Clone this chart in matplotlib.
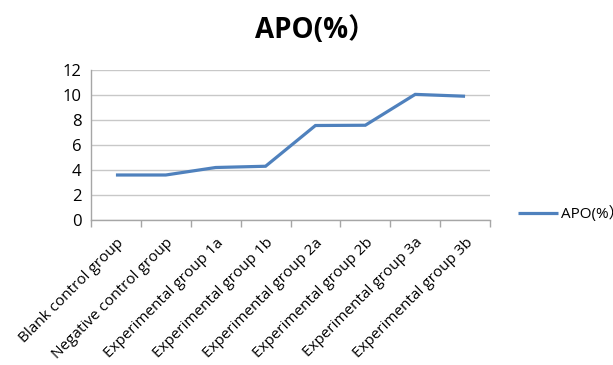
import matplotlib
matplotlib.use("Agg")
import matplotlib.pyplot as plt
import numpy as np

plt.rcParams['font.family'] = ['Open Sans', 'Noto Sans CJK TC', 'DejaVu Sans']

categories = ["Blank control group", "Negative control group",
              "Experimental group 1a", "Experimental group 1b",
              "Experimental group 2a", "Experimental group 2b",
              "Experimental group 3a", "Experimental group 3b"]
apo_values = [3.6, 3.6, 4.2, 4.3, 7.56, 7.58, 10.05, 9.9]
y_ticks = [0, 2, 4, 6, 8, 10, 12]
series_name = "APO(%）"

fig = plt.figure(figsize=(6.13, 3.65), dpi=100)
ax = fig.add_axes([91/613, 1-220/365, 399/613, 150/365])

x = np.arange(len(categories))
line, = ax.plot(x, apo_values, color="#4f81bd", lw=2.3, solid_capstyle="butt",
                solid_joinstyle="miter", label=series_name)

ax.set_xlim(-0.5, len(categories) - 0.5)
ax.set_ylim(0, 12)
ax.set_yticks(y_ticks)
ax.set_yticklabels([str(v) for v in y_ticks], fontsize=12)
ax.yaxis.grid(True, color="#c8c8c8", lw=1)
ax.set_axisbelow(True)

ax.set_xticks(np.arange(len(categories) + 1) - 0.5)
ax.set_xticklabels([])
ax.set_xticks(x, minor=True)
ax.set_xticklabels(categories, minor=True, rotation=45, ha="right",
                   rotation_mode="anchor", fontsize=11)
ax.tick_params(axis="x", which="major", length=5, color="#a6a6a6", width=1)
ax.tick_params(axis="x", which="minor", length=0, pad=11)
ax.tick_params(axis="y", length=0, pad=7)

for side in ["top", "right"]:
    ax.spines[side].set_visible(False)
for side in ["left", "bottom"]:
    ax.spines[side].set_color("#a6a6a6")
    ax.spines[side].set_linewidth(1)

fig.text(315/613, 1-30/365, series_name, ha="center", va="center",
         fontsize=20, fontweight="bold")

fig.legend(handles=[line], loc="center left", bbox_to_anchor=(512/613, 1-214/365),
           frameon=False, fontsize=11, handlelength=2.6, handletextpad=0.2,
           borderaxespad=0)

fig.savefig("out.png", dpi=100)
